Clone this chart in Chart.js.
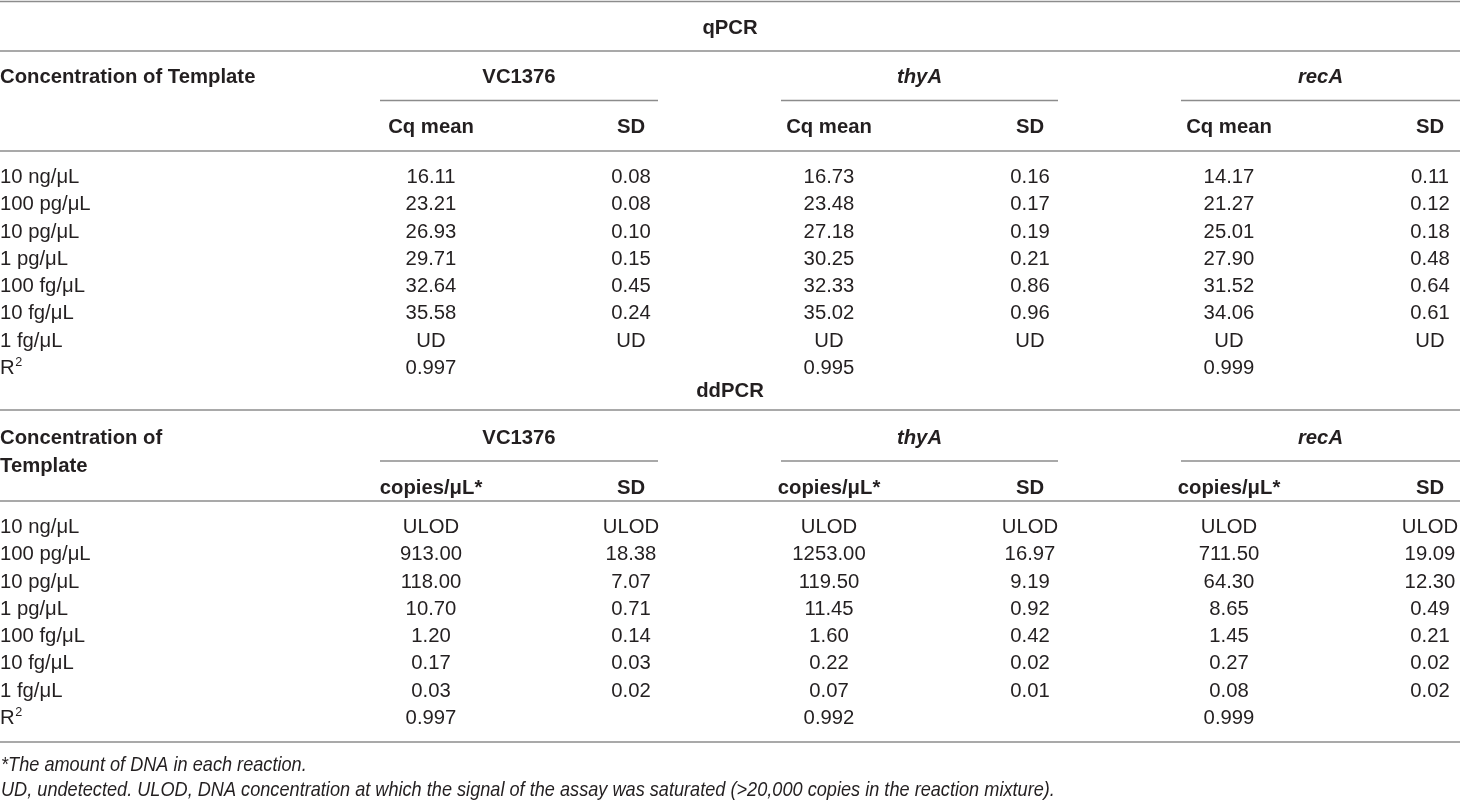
<!DOCTYPE html>
<html>
<head>
<meta charset="utf-8">
<script src="https://cdn.jsdelivr.net/npm/chart.js@4.4.1/dist/chart.umd.min.js"></script>
<style>
  html, body { margin: 0; padding: 0; background: #fff; }
  #wrap { width: 1460px; height: 800px; position: relative; }
</style>
</head>
<body>
<div id="wrap"><canvas id="tbl"></canvas></div>
<script>
const concentrations = ['10 ng/\u03bcL', '100 pg/\u03bcL', '10 pg/\u03bcL', '1 pg/\u03bcL', '100 fg/\u03bcL', '10 fg/\u03bcL', '1 fg/\u03bcL'];
const genes = ['VC1376', 'thyA', 'recA'];

// qPCR Cq mean / SD (null = UD, undetected)
const vcCqMean   = [16.11, 23.21, 26.93, 29.71, 32.64, 35.58, null];
const vcCqSD     = [0.08, 0.08, 0.10, 0.15, 0.45, 0.24, null];
const thyaCqMean = [16.73, 23.48, 27.18, 30.25, 32.33, 35.02, null];
const thyaCqSD   = [0.16, 0.17, 0.19, 0.21, 0.86, 0.96, null];
const recaCqMean = [14.17, 21.27, 25.01, 27.90, 31.52, 34.06, null];
const recaCqSD   = [0.11, 0.12, 0.18, 0.48, 0.64, 0.61, null];
const qpcrR2     = [0.997, 0.995, 0.999];

// ddPCR copies/uL / SD (null = ULOD, saturated)
const vcCopies   = [null, 913.00, 118.00, 10.70, 1.20, 0.17, 0.03];
const vcCopiesSD = [null, 18.38, 7.07, 0.71, 0.14, 0.03, 0.02];
const thyaCopies   = [null, 1253.00, 119.50, 11.45, 1.60, 0.22, 0.07];
const thyaCopiesSD = [null, 16.97, 9.19, 0.92, 0.42, 0.02, 0.01];
const recaCopies   = [null, 711.50, 64.30, 8.65, 1.45, 0.27, 0.08];
const recaCopiesSD = [null, 19.09, 12.30, 0.49, 0.21, 0.02, 0.02];
const ddpcrR2      = [0.997, 0.992, 0.999];

const footnotes = [
  '*The amount of DNA in each reaction.',
  'UD, undetected. ULOD, DNA concentration at which the signal of the assay was saturated (>20,000 copies in the reaction mixture).'
];

// ---- layout (scale units = page pixels) ----
const valueCols = [431, 631, 829, 1030, 1229, 1430];   // mean, SD for each gene
const geneSpans = [[380, 658], [781, 1058], [1181, 1460]];
const qRowTop = 177.5, dRowTop = 527.5, rowStep = 27.25;

const FONT = '"Liberation Sans", Arial, sans-serif';
const fmt2 = (v, miss) => v === null ? miss : v.toFixed(2);

// one text dataset per column; points carry the text as `t`
function col(x, rowTop, values, r2, miss) {
  const pts = values.map((v, i) => ({ x: x, y: rowTop + i * rowStep, t: fmt2(v, miss) }));
  if (r2 !== undefined) pts.push({ x: x, y: rowTop + values.length * rowStep, t: r2.toFixed(3) });
  return { data: pts, pointRadius: 0, showLine: false, align: 'center' };
}
function labelCol(rowTop) {
  const pts = concentrations.map((c, i) => ({ x: 0, y: rowTop + i * rowStep, t: c }));
  pts.push({ x: 0, y: rowTop + concentrations.length * rowStep, t: 'R', sup: '2' });
  return { data: pts, pointRadius: 0, showLine: false, align: 'left' };
}

const datasets = [
  labelCol(qRowTop),
  col(valueCols[0], qRowTop, vcCqMean, qpcrR2[0], 'UD'),
  col(valueCols[1], qRowTop, vcCqSD, undefined, 'UD'),
  col(valueCols[2], qRowTop, thyaCqMean, qpcrR2[1], 'UD'),
  col(valueCols[3], qRowTop, thyaCqSD, undefined, 'UD'),
  col(valueCols[4], qRowTop, recaCqMean, qpcrR2[2], 'UD'),
  col(valueCols[5], qRowTop, recaCqSD, undefined, 'UD'),
  labelCol(dRowTop),
  col(valueCols[0], dRowTop, vcCopies, ddpcrR2[0], 'ULOD'),
  col(valueCols[1], dRowTop, vcCopiesSD, undefined, 'ULOD'),
  col(valueCols[2], dRowTop, thyaCopies, ddpcrR2[1], 'ULOD'),
  col(valueCols[3], dRowTop, thyaCopiesSD, undefined, 'ULOD'),
  col(valueCols[4], dRowTop, recaCopies, ddpcrR2[2], 'ULOD'),
  col(valueCols[5], dRowTop, recaCopiesSD, undefined, 'ULOD')
];

// header texts, rules and notes, all placed through the scales
const headerTexts = [
  { x: 730, y: 28, t: 'qPCR', bold: true, align: 'center' },
  { x: 0, y: 77.5, t: 'Concentration of Template', bold: true, align: 'left' },
  { x: 730, y: 391, t: 'ddPCR', bold: true, align: 'center' },
  { x: 0, y: 438.5, t: 'Concentration of', bold: true, align: 'left' },
  { x: 0, y: 466.5, t: 'Template', bold: true, align: 'left' },
  { x: 1, y: 765, t: footnotes[0], italic: true, align: 'left' },
  { x: 1, y: 790, t: footnotes[1], italic: true, align: 'left' }
];
genes.forEach((g, i) => {
  const mid = (geneSpans[i][0] + geneSpans[i][1]) / 2;
  const it = i > 0;
  headerTexts.push({ x: mid, y: 77.5, t: g, bold: true, italic: it, align: 'center' });
  headerTexts.push({ x: mid, y: 438.5, t: g, bold: true, italic: it, align: 'center' });
  headerTexts.push({ x: valueCols[i * 2], y: 127.5, t: 'Cq mean', bold: true, align: 'center' });
  headerTexts.push({ x: valueCols[i * 2 + 1], y: 127.5, t: 'SD', bold: true, align: 'center' });
  headerTexts.push({ x: valueCols[i * 2], y: 488, t: 'copies/\u03bcL*', bold: true, align: 'center' });
  headerTexts.push({ x: valueCols[i * 2 + 1], y: 488, t: 'SD', bold: true, align: 'center' });
});
const rules = [
  { x0: 0, x1: 1460, y: 1.5 }, { x0: 0, x1: 1460, y: 51 }, { x0: 0, x1: 1460, y: 151 },
  { x0: 0, x1: 1460, y: 410 }, { x0: 0, x1: 1460, y: 501 }, { x0: 0, x1: 1460, y: 742 }
];
geneSpans.forEach(s => {
  rules.push({ x0: s[0], x1: s[1], y: 100.5 });
  rules.push({ x0: s[0], x1: s[1], y: 461 });
});

const FS = 20.3;
function setFont(ctx, o) {
  ctx.font = (o.italic ? 'italic ' : '') + (o.bold ? 'bold ' : '') + FS + 'px ' + FONT;
}
// the notes are set in a narrower oblique face
const ITALIC_SQUEEZE = 0.895;

const tablePlugin = {
  id: 'tablePlugin',
  afterDatasetsDraw(chart) {
    const ctx = chart.ctx;
    const xs = chart.scales.x, ys = chart.scales.y;
    ctx.save();
    // rules
    ctx.strokeStyle = '#8c8c8c';
    ctx.lineWidth = 1.6;
    rules.forEach(r => {
      const y = ys.getPixelForValue(r.y);
      ctx.beginPath();
      ctx.moveTo(xs.getPixelForValue(r.x0), y);
      ctx.lineTo(xs.getPixelForValue(r.x1), y);
      ctx.stroke();
    });
    ctx.fillStyle = '#231f20';
    ctx.textBaseline = 'middle';
    // headers and notes
    headerTexts.forEach(h => {
      setFont(ctx, h);
      ctx.textAlign = h.align;
      const px = xs.getPixelForValue(h.x), py = ys.getPixelForValue(h.y);
      if (h.italic && !h.bold) {
        ctx.save();
        ctx.translate(px, py);
        ctx.scale(ITALIC_SQUEEZE, 1);
        ctx.fillText(h.t, 0, 0);
        ctx.restore();
      } else {
        ctx.fillText(h.t, px, py);
      }
    });
    // cells, at the points the library placed
    chart.data.datasets.forEach((ds, di) => {
      const meta = chart.getDatasetMeta(di);
      meta.data.forEach((el, i) => {
        const p = ds.data[i];
        setFont(ctx, {});
        ctx.textAlign = ds.align;
        ctx.fillText(p.t, el.x, el.y);
        if (p.sup) {
          const w = ctx.measureText(p.t).width;
          ctx.font = (FS * 0.62) + 'px ' + FONT;
          ctx.textAlign = 'left';
          ctx.fillText(p.sup, el.x + w + 0.5, el.y - FS * 0.3);
        }
      });
    });
    ctx.restore();
  }
};

new Chart(document.getElementById('tbl'), {
  type: 'scatter',
  data: { datasets: datasets },
  options: {
    responsive: true,
    maintainAspectRatio: false,
    animation: false,
    layout: { padding: 0 },
    plugins: { legend: { display: false }, tooltip: { enabled: false } },
    events: [],
    scales: {
      x: { type: 'linear', min: 0, max: 1460, display: false },
      y: { type: 'linear', min: 0, max: 800, reverse: true, display: false }
    }
  },
  plugins: [tablePlugin]
});
</script>
</body>
</html>
